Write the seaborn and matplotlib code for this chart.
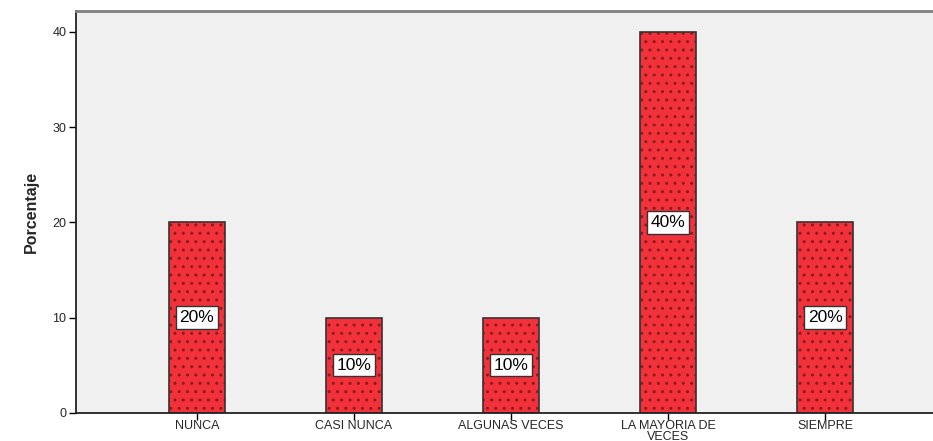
import pandas as pd
import matplotlib.pyplot as plt
import seaborn as sns

categorias = ['NUNCA', 'CASI NUNCA', 'ALGUNAS VECES', 'LA MAYORIA DE\nVECES', 'SIEMPRE']
porcentajes = [20, 10, 10, 40, 20]
etiquetas = ['20%', '10%', '10%', '40%', '20%']

df = pd.DataFrame({'categoria': categorias, 'porcentaje': porcentajes})

sns.set_theme(style='white')
plt.rcParams['font.family'] = ['Liberation Sans', 'DejaVu Sans']
plt.rcParams['hatch.linewidth'] = 1.0

fig = plt.figure(figsize=(9.33, 4.41), dpi=100)
ax = fig.add_axes([0.0815, 0.064, 0.9325, 0.911])
ax.set_facecolor('#F0F0F0')

# relleno con textura de puntos
sns.barplot(data=df, x='categoria', y='porcentaje', color='#F2313B', saturation=1,
            width=0.357, ax=ax)
for p in ax.patches:
    p.set_hatch('..')
    p.set_edgecolor('#8A1C1C')
    p.set_linewidth(0.01)
# contorno de las barras
sns.barplot(data=df, x='categoria', y='porcentaje', fill=False, width=0.357,
            edgecolor='#333333', linewidth=1.2, ax=ax)

for i, (v, t) in enumerate(zip(porcentajes, etiquetas)):
    ax.text(i, v / 2, t, ha='center', va='center', fontsize=12.5, color='black',
            bbox=dict(boxstyle='square,pad=0.22', facecolor='white', edgecolor='#333333', linewidth=1))

ax.set_xlim(-0.77, 4.77)
ax.set_ylim(0, 42.2)
ax.set_yticks([0, 10, 20, 30, 40])
ax.set_xlabel('')
ax.set_ylabel('Porcentaje', fontsize=11.5, fontweight='bold', labelpad=10)
ax.tick_params(axis='both', labelsize=9, length=5, width=1, color='black', direction='out', pad=2)
ax.tick_params(axis='x', pad=0.5)
ax.tick_params(left=True, bottom=True)
for lbl in ax.get_xticklabels():
    lbl.set_linespacing(0.8)

for s in ['left', 'bottom']:
    ax.spines[s].set_color('#222222')
    ax.spines[s].set_linewidth(1.3)
ax.spines['top'].set_color('#808080')
ax.spines['top'].set_linewidth(2)
ax.spines['right'].set_visible(False)

fig.savefig('out.png', dpi=100)
